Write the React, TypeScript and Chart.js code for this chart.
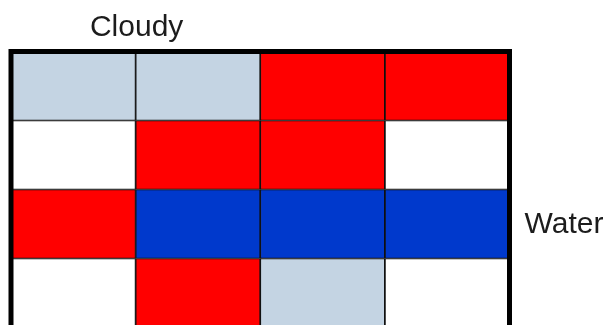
import React, { useEffect, useRef } from "react";
import { Chart, registerables } from "chart.js";

Chart.register(...registerables);

const LIGHT = "#C4D4E3";
const RED = "#FF0000";
const BLUE = "#0039CC";
const WHITE = "#FFFFFF";

const columns = ["C1", "C2", "C3", "C4"];
const rowLabels = ["Row 1", "Row 2", "Row 3", "Row 4"];
const rowColors: string[][] = [
  [LIGHT, LIGHT, RED, RED],
  [WHITE, RED, RED, WHITE],
  [RED, BLUE, BLUE, BLUE],
  [WHITE, RED, LIGHT, WHITE],
];
const cellValue = [1, 1, 1, 1];
const topLabel = "Cloudy";
const rightLabel = "Water";

const annotate = {
  id: "annotate",
  afterDraw(chart: any) {
    const { ctx, chartArea, scales } = chart;
    ctx.save();
    ctx.strokeStyle = "#000";
    ctx.lineWidth = 5;
    ctx.strokeRect(
      chartArea.left,
      chartArea.top,
      chartArea.right - chartArea.left,
      chartArea.bottom - chartArea.top
    );
    ctx.fillStyle = "#1c1c1c";
    ctx.font = "30px 'Liberation Sans', Arial, sans-serif";
    ctx.textAlign = "center";
    ctx.textBaseline = "alphabetic";
    const xc = scales.x.getPixelForValue(0.5);
    ctx.fillText(topLabel, xc + 1, 36);
    ctx.textAlign = "left";
    ctx.textBaseline = "middle";
    const yc = scales.y.getPixelForValue(2.5);
    ctx.fillText(rightLabel, chartArea.right + 15, yc + 1);
    ctx.restore();
  },
};

export default function App() {
  const ref = useRef<HTMLCanvasElement>(null);
  useEffect(() => {
    if (!ref.current) return;
    const chart = new Chart(ref.current, {
      type: "bar",
      data: {
        labels: columns,
        datasets: rowLabels.map((r, i) => ({
          label: r,
          data: cellValue,
          backgroundColor: rowColors[i],
          borderColor: "#111",
          borderWidth: 1.2,
          borderSkipped: false,
          barPercentage: 1,
          categoryPercentage: 1,
        })),
      },
      options: {
        responsive: false,
        animation: false,
        layout: { padding: { left: 11, top: 51.5, right: 100.5, bottom: 4.5 } },
        plugins: { legend: { display: false }, tooltip: { enabled: false }, title: { display: false } },
        scales: {
          x: { stacked: true, display: false, grid: { display: false } },
          y: { stacked: true, display: false, reverse: true, min: 0, max: 4, grid: { display: false } },
        },
      },
      plugins: [annotate],
    });
    return () => chart.destroy();
  }, []);
  return (
    <div style={{ position: "absolute", left: 0, top: 0, width: 610, height: 325, overflow: "hidden", background: "#fff" }}>
      <canvas ref={ref} width={610} height={332} style={{ display: "block" }} />
    </div>
  );
}
